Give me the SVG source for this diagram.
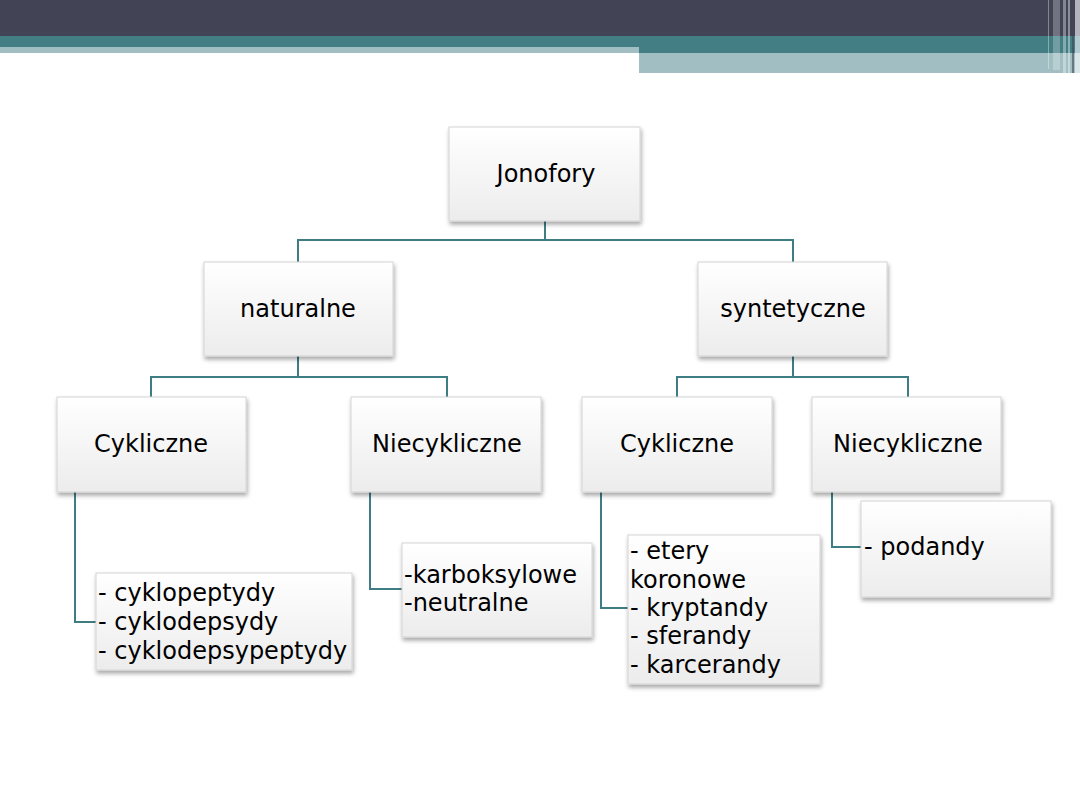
<svg xmlns="http://www.w3.org/2000/svg" width="1080" height="810" viewBox="0 0 1080 810">
<style>
.box{fill:url(#g);stroke:#d4d4d4;stroke-width:1;filter:url(#sh)}
.t{font-family:"DejaVu Sans","Open Sans",sans-serif;font-size:24px;fill:#000}
.c{text-anchor:middle}
.ln{fill:none;stroke:#3e7d83;stroke-width:2}
</style>
<defs>
<linearGradient id="g" x1="0" y1="0" x2="0" y2="1">
<stop offset="0" stop-color="#ffffff"/>
<stop offset="1" stop-color="#ececec"/>
</linearGradient>
<filter id="sh" x="-10%" y="-10%" width="125%" height="130%">
<feDropShadow dx="1" dy="3" stdDeviation="2" flood-color="#000" flood-opacity="0.35"/>
</filter>
</defs>
<rect width="1080" height="810" fill="#ffffff"/>
<g id="header">
<rect x="0" y="0" width="1080" height="36" fill="#424456"/>
<rect x="0" y="36" width="1080" height="17" fill="#437e84"/>
<rect x="0" y="47" width="639" height="6" fill="#a1bfc3"/>
<rect x="639" y="53" width="441" height="20" fill="#a1bfc3"/>
<rect x="1048" y="0" width="1" height="69" fill="#ffffff" opacity="0.35"/>
<rect x="1053" y="0" width="7" height="70" fill="#ffffff" opacity="0.25"/>
<rect x="1063" y="0" width="3" height="73" fill="#ffffff" opacity="0.35"/>
<rect x="1068" y="0" width="2" height="73" fill="#ffffff" opacity="0.4"/>
<rect x="1072" y="0" width="2" height="73" fill="#424456" opacity="0.6"/>
<rect x="1075" y="0" width="5" height="73" fill="#ffffff" opacity="0.6"/>
</g>
<g id="connectors">
<path class="ln" d="M545 221V240M298 262V240H793V262"/>
<path class="ln" d="M298 356V377M151 397V377H447V397"/>
<path class="ln" d="M793 356V377M677 397V377H908V397"/>
<path class="ln" d="M75 492V622H96"/>
<path class="ln" d="M370 492V589H402"/>
<path class="ln" d="M601 492V608H628"/>
<path class="ln" d="M832 492V547H861"/>
</g>
<g id="n-jonofory"><rect class="box" x="449" y="127" width="191" height="94"/><text class="t c" x="546" y="182">Jonofory</text></g>
<g id="n-naturalne"><rect class="box" x="204" y="262" width="189" height="94"/><text class="t c" x="298" y="317">naturalne</text></g>
<g id="n-syntetyczne"><rect class="box" x="698" y="262" width="189" height="94"/><text class="t c" x="793" y="317">syntetyczne</text></g>
<g id="n-cykl-nat"><rect class="box" x="57" y="397" width="189" height="95"/><text class="t c" x="151" y="452">Cykliczne</text></g>
<g id="n-niecykl-nat"><rect class="box" x="351" y="397" width="190" height="95"/><text class="t c" x="447" y="452">Niecykliczne</text></g>
<g id="n-cykl-syn"><rect class="box" x="582" y="397" width="190" height="95"/><text class="t c" x="677" y="452">Cykliczne</text></g>
<g id="n-niecykl-syn"><rect class="box" x="812" y="397" width="189" height="95"/><text class="t c" x="908" y="452">Niecykliczne</text></g>
<g id="n-leaf1"><rect class="box" x="96" y="573" width="256" height="97"/>
<text class="t" x="98"><tspan x="98" y="601">- cyklopeptydy</tspan><tspan x="98" y="630">- cyklodepsydy</tspan><tspan x="98" y="659">- cyklodepsypeptydy</tspan></text></g>
<g id="n-leaf2"><rect class="box" x="402" y="543" width="190" height="94"/>
<text class="t" x="404"><tspan x="404" y="583">-karboksylowe</tspan><tspan x="404" y="611">-neutralne</tspan></text></g>
<g id="n-leaf3"><rect class="box" x="628" y="535" width="192" height="149"/>
<text class="t" x="630"><tspan x="630" y="559">- etery</tspan><tspan x="630" y="588">koronowe</tspan><tspan x="630" y="616">- kryptandy</tspan><tspan x="630" y="644">- sferandy</tspan><tspan x="630" y="673">- karcerandy</tspan></text></g>
<g id="n-leaf4"><rect class="box" x="861" y="501" width="190" height="96"/>
<text class="t" x="864" y="555">- podandy</text></g>
</svg>
